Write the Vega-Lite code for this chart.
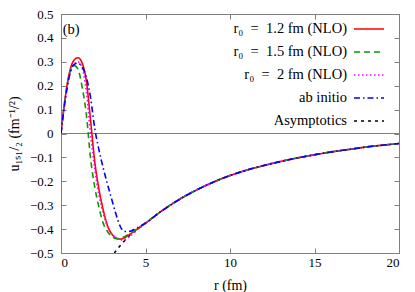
{
  "$schema": "https://vega.github.io/schema/vega-lite/v6.json",
  "width": 338,
  "height": 239,
  "autosize": {"type": "none"},
  "padding": {"left": 61, "top": 14, "right": 16, "bottom": 39},
  "config": {
    "view": {"stroke": "#808080", "strokeWidth": 1},
    "font": "Liberation Serif",
    "axis": {
      "grid": false,
      "domainColor": "#808080",
      "tickColor": "#808080",
      "tickSize": -5,
      "labelFont": "Liberation Serif",
      "labelFontSize": 13,
      "labelColor": "#000000",
      "titleFont": "Liberation Serif",
      "titleFontSize": 14,
      "titleFontWeight": "normal",
      "titleColor": "#000000"
    }
  },
  "datasets": {
    "curves": [
      {"s": "Asymptotics", "r": 3.15, "u": -0.5},
      {"s": "Asymptotics", "r": 3.4, "u": -0.478},
      {"s": "Asymptotics", "r": 3.7, "u": -0.453},
      {"s": "Asymptotics", "r": 4.0, "u": -0.431},
      {"s": "Asymptotics", "r": 4.5, "u": -0.402},
      {"s": "Asymptotics", "r": 5, "u": -0.375},
      {"s": "Asymptotics", "r": 6, "u": -0.322},
      {"s": "Asymptotics", "r": 7, "u": -0.276},
      {"s": "Asymptotics", "r": 8, "u": -0.237},
      {"s": "Asymptotics", "r": 9, "u": -0.204},
      {"s": "Asymptotics", "r": 10, "u": -0.176},
      {"s": "Asymptotics", "r": 11, "u": -0.153},
      {"s": "Asymptotics", "r": 12, "u": -0.134},
      {"s": "Asymptotics", "r": 13, "u": -0.117},
      {"s": "Asymptotics", "r": 14, "u": -0.102},
      {"s": "Asymptotics", "r": 15, "u": -0.089},
      {"s": "Asymptotics", "r": 16, "u": -0.077},
      {"s": "Asymptotics", "r": 17, "u": -0.067},
      {"s": "Asymptotics", "r": 18, "u": -0.057},
      {"s": "Asymptotics", "r": 19, "u": -0.049},
      {"s": "Asymptotics", "r": 20, "u": -0.042},

      {"s": "r₀ = 1.2 fm (NLO)", "r": 0, "u": 0},
      {"s": "r₀ = 1.2 fm (NLO)", "r": 0.1, "u": 0.065},
      {"s": "r₀ = 1.2 fm (NLO)", "r": 0.25, "u": 0.15},
      {"s": "r₀ = 1.2 fm (NLO)", "r": 0.5, "u": 0.255},
      {"s": "r₀ = 1.2 fm (NLO)", "r": 0.75, "u": 0.305},
      {"s": "r₀ = 1.2 fm (NLO)", "r": 1.0, "u": 0.317},
      {"s": "r₀ = 1.2 fm (NLO)", "r": 1.25, "u": 0.295},
      {"s": "r₀ = 1.2 fm (NLO)", "r": 1.5, "u": 0.22},
      {"s": "r₀ = 1.2 fm (NLO)", "r": 1.75, "u": 0.055},
      {"s": "r₀ = 1.2 fm (NLO)", "r": 2.0, "u": -0.12},
      {"s": "r₀ = 1.2 fm (NLO)", "r": 2.25, "u": -0.235},
      {"s": "r₀ = 1.2 fm (NLO)", "r": 2.5, "u": -0.32},
      {"s": "r₀ = 1.2 fm (NLO)", "r": 2.75, "u": -0.385},
      {"s": "r₀ = 1.2 fm (NLO)", "r": 3.0, "u": -0.42},
      {"s": "r₀ = 1.2 fm (NLO)", "r": 3.25, "u": -0.437},
      {"s": "r₀ = 1.2 fm (NLO)", "r": 3.5, "u": -0.442},
      {"s": "r₀ = 1.2 fm (NLO)", "r": 3.75, "u": -0.437},
      {"s": "r₀ = 1.2 fm (NLO)", "r": 4.0, "u": -0.425},
      {"s": "r₀ = 1.2 fm (NLO)", "r": 4.5, "u": -0.4},
      {"s": "r₀ = 1.2 fm (NLO)", "r": 5, "u": -0.375},
      {"s": "r₀ = 1.2 fm (NLO)", "r": 6, "u": -0.322},
      {"s": "r₀ = 1.2 fm (NLO)", "r": 7, "u": -0.276},
      {"s": "r₀ = 1.2 fm (NLO)", "r": 8, "u": -0.237},
      {"s": "r₀ = 1.2 fm (NLO)", "r": 9, "u": -0.204},
      {"s": "r₀ = 1.2 fm (NLO)", "r": 10, "u": -0.176},
      {"s": "r₀ = 1.2 fm (NLO)", "r": 11, "u": -0.153},
      {"s": "r₀ = 1.2 fm (NLO)", "r": 12, "u": -0.134},
      {"s": "r₀ = 1.2 fm (NLO)", "r": 13, "u": -0.117},
      {"s": "r₀ = 1.2 fm (NLO)", "r": 14, "u": -0.102},
      {"s": "r₀ = 1.2 fm (NLO)", "r": 15, "u": -0.089},
      {"s": "r₀ = 1.2 fm (NLO)", "r": 16, "u": -0.077},
      {"s": "r₀ = 1.2 fm (NLO)", "r": 17, "u": -0.067},
      {"s": "r₀ = 1.2 fm (NLO)", "r": 18, "u": -0.057},
      {"s": "r₀ = 1.2 fm (NLO)", "r": 19, "u": -0.049},
      {"s": "r₀ = 1.2 fm (NLO)", "r": 20, "u": -0.042},

      {"s": "r₀ = 1.5 fm (NLO)", "r": 0, "u": 0},
      {"s": "r₀ = 1.5 fm (NLO)", "r": 0.1, "u": 0.065},
      {"s": "r₀ = 1.5 fm (NLO)", "r": 0.25, "u": 0.15},
      {"s": "r₀ = 1.5 fm (NLO)", "r": 0.5, "u": 0.25},
      {"s": "r₀ = 1.5 fm (NLO)", "r": 0.75, "u": 0.285},
      {"s": "r₀ = 1.5 fm (NLO)", "r": 1.0, "u": 0.27},
      {"s": "r₀ = 1.5 fm (NLO)", "r": 1.25, "u": 0.195},
      {"s": "r₀ = 1.5 fm (NLO)", "r": 1.5, "u": 0.08},
      {"s": "r₀ = 1.5 fm (NLO)", "r": 1.75, "u": -0.105},
      {"s": "r₀ = 1.5 fm (NLO)", "r": 2.0, "u": -0.225},
      {"s": "r₀ = 1.5 fm (NLO)", "r": 2.25, "u": -0.31},
      {"s": "r₀ = 1.5 fm (NLO)", "r": 2.5, "u": -0.376},
      {"s": "r₀ = 1.5 fm (NLO)", "r": 2.75, "u": -0.41},
      {"s": "r₀ = 1.5 fm (NLO)", "r": 3.0, "u": -0.43},
      {"s": "r₀ = 1.5 fm (NLO)", "r": 3.25, "u": -0.44},
      {"s": "r₀ = 1.5 fm (NLO)", "r": 3.5, "u": -0.438},
      {"s": "r₀ = 1.5 fm (NLO)", "r": 3.75, "u": -0.432},
      {"s": "r₀ = 1.5 fm (NLO)", "r": 4.0, "u": -0.422},
      {"s": "r₀ = 1.5 fm (NLO)", "r": 4.5, "u": -0.4},
      {"s": "r₀ = 1.5 fm (NLO)", "r": 5, "u": -0.375},
      {"s": "r₀ = 1.5 fm (NLO)", "r": 6, "u": -0.322},
      {"s": "r₀ = 1.5 fm (NLO)", "r": 7, "u": -0.276},
      {"s": "r₀ = 1.5 fm (NLO)", "r": 8, "u": -0.237},
      {"s": "r₀ = 1.5 fm (NLO)", "r": 9, "u": -0.204},
      {"s": "r₀ = 1.5 fm (NLO)", "r": 10, "u": -0.176},
      {"s": "r₀ = 1.5 fm (NLO)", "r": 11, "u": -0.153},
      {"s": "r₀ = 1.5 fm (NLO)", "r": 12, "u": -0.134},
      {"s": "r₀ = 1.5 fm (NLO)", "r": 13, "u": -0.117},
      {"s": "r₀ = 1.5 fm (NLO)", "r": 14, "u": -0.102},
      {"s": "r₀ = 1.5 fm (NLO)", "r": 15, "u": -0.089},
      {"s": "r₀ = 1.5 fm (NLO)", "r": 16, "u": -0.077},
      {"s": "r₀ = 1.5 fm (NLO)", "r": 17, "u": -0.067},
      {"s": "r₀ = 1.5 fm (NLO)", "r": 18, "u": -0.057},
      {"s": "r₀ = 1.5 fm (NLO)", "r": 19, "u": -0.049},
      {"s": "r₀ = 1.5 fm (NLO)", "r": 20, "u": -0.042},

      {"s": "r₀ = 2 fm (NLO)", "r": 0, "u": 0},
      {"s": "r₀ = 2 fm (NLO)", "r": 0.1, "u": 0.062},
      {"s": "r₀ = 2 fm (NLO)", "r": 0.25, "u": 0.145},
      {"s": "r₀ = 2 fm (NLO)", "r": 0.5, "u": 0.245},
      {"s": "r₀ = 2 fm (NLO)", "r": 0.75, "u": 0.29},
      {"s": "r₀ = 2 fm (NLO)", "r": 1.0, "u": 0.3},
      {"s": "r₀ = 2 fm (NLO)", "r": 1.25, "u": 0.275},
      {"s": "r₀ = 2 fm (NLO)", "r": 1.5, "u": 0.175},
      {"s": "r₀ = 2 fm (NLO)", "r": 1.75, "u": -0.005},
      {"s": "r₀ = 2 fm (NLO)", "r": 2.0, "u": -0.15},
      {"s": "r₀ = 2 fm (NLO)", "r": 2.25, "u": -0.26},
      {"s": "r₀ = 2 fm (NLO)", "r": 2.5, "u": -0.335},
      {"s": "r₀ = 2 fm (NLO)", "r": 2.75, "u": -0.39},
      {"s": "r₀ = 2 fm (NLO)", "r": 3.0, "u": -0.42},
      {"s": "r₀ = 2 fm (NLO)", "r": 3.25, "u": -0.437},
      {"s": "r₀ = 2 fm (NLO)", "r": 3.5, "u": -0.445},
      {"s": "r₀ = 2 fm (NLO)", "r": 3.75, "u": -0.445},
      {"s": "r₀ = 2 fm (NLO)", "r": 4.0, "u": -0.434},
      {"s": "r₀ = 2 fm (NLO)", "r": 4.5, "u": -0.404},
      {"s": "r₀ = 2 fm (NLO)", "r": 5, "u": -0.376},
      {"s": "r₀ = 2 fm (NLO)", "r": 6, "u": -0.322},
      {"s": "r₀ = 2 fm (NLO)", "r": 7, "u": -0.276},
      {"s": "r₀ = 2 fm (NLO)", "r": 8, "u": -0.237},
      {"s": "r₀ = 2 fm (NLO)", "r": 9, "u": -0.204},
      {"s": "r₀ = 2 fm (NLO)", "r": 10, "u": -0.176},
      {"s": "r₀ = 2 fm (NLO)", "r": 11, "u": -0.153},
      {"s": "r₀ = 2 fm (NLO)", "r": 12, "u": -0.134},
      {"s": "r₀ = 2 fm (NLO)", "r": 13, "u": -0.117},
      {"s": "r₀ = 2 fm (NLO)", "r": 14, "u": -0.102},
      {"s": "r₀ = 2 fm (NLO)", "r": 15, "u": -0.089},
      {"s": "r₀ = 2 fm (NLO)", "r": 16, "u": -0.077},
      {"s": "r₀ = 2 fm (NLO)", "r": 17, "u": -0.067},
      {"s": "r₀ = 2 fm (NLO)", "r": 18, "u": -0.057},
      {"s": "r₀ = 2 fm (NLO)", "r": 19, "u": -0.049},
      {"s": "r₀ = 2 fm (NLO)", "r": 20, "u": -0.042},

      {"s": "ab initio", "r": 0, "u": 0},
      {"s": "ab initio", "r": 0.1, "u": 0.06},
      {"s": "ab initio", "r": 0.25, "u": 0.14},
      {"s": "ab initio", "r": 0.5, "u": 0.24},
      {"s": "ab initio", "r": 0.75, "u": 0.287},
      {"s": "ab initio", "r": 1.0, "u": 0.295},
      {"s": "ab initio", "r": 1.25, "u": 0.278},
      {"s": "ab initio", "r": 1.5, "u": 0.235},
      {"s": "ab initio", "r": 1.75, "u": 0.15},
      {"s": "ab initio", "r": 2.0, "u": 0.02},
      {"s": "ab initio", "r": 2.25, "u": -0.07},
      {"s": "ab initio", "r": 2.5, "u": -0.145},
      {"s": "ab initio", "r": 2.75, "u": -0.212},
      {"s": "ab initio", "r": 3.0, "u": -0.275},
      {"s": "ab initio", "r": 3.25, "u": -0.337},
      {"s": "ab initio", "r": 3.5, "u": -0.388},
      {"s": "ab initio", "r": 3.75, "u": -0.41},
      {"s": "ab initio", "r": 4.0, "u": -0.41},
      {"s": "ab initio", "r": 4.5, "u": -0.395},
      {"s": "ab initio", "r": 5, "u": -0.375},
      {"s": "ab initio", "r": 6, "u": -0.322},
      {"s": "ab initio", "r": 7, "u": -0.276},
      {"s": "ab initio", "r": 8, "u": -0.237},
      {"s": "ab initio", "r": 9, "u": -0.204},
      {"s": "ab initio", "r": 10, "u": -0.176},
      {"s": "ab initio", "r": 11, "u": -0.153},
      {"s": "ab initio", "r": 12, "u": -0.134},
      {"s": "ab initio", "r": 13, "u": -0.117},
      {"s": "ab initio", "r": 14, "u": -0.102},
      {"s": "ab initio", "r": 15, "u": -0.089},
      {"s": "ab initio", "r": 16, "u": -0.077},
      {"s": "ab initio", "r": 17, "u": -0.067},
      {"s": "ab initio", "r": 18, "u": -0.057},
      {"s": "ab initio", "r": 19, "u": -0.049},
      {"s": "ab initio", "r": 20, "u": -0.042}
    ]
  },
  "layer": [
    {
      "data": {"values": [{}]},
      "mark": {"type": "rule", "color": "#808080", "strokeWidth": 1},
      "encoding": {"y": {"datum": 0, "type": "quantitative", "scale": {"domain": [-0.5, 0.5], "nice": false}, "axis": null}}
    },
    {
      "data": {"name": "curves"},
      "mark": {"type": "line", "strokeWidth": 1.6, "interpolate": "monotone", "clip": true},
      "encoding": {
        "x": {
          "field": "r", "type": "quantitative",
          "scale": {"domain": [0, 20], "nice": false},
          "axis": {"orient": "bottom", "values": [0, 5, 10, 15, 20], "title": "r (fm)", "labelPadding": 8, "titlePadding": 9}
        },
        "y": {
          "field": "u", "type": "quantitative",
          "scale": {"domain": [-0.5, 0.5], "nice": false},
          "axis": {
            "orient": "left",
            "values": [-0.5, -0.4, -0.3, -0.2, -0.1, 0, 0.1, 0.2, 0.3, 0.4, 0.5],
            "format": ".1~f",
            "title": "u₁ₛ₁/₂ (fm⁻¹/²)",
            "labelPadding": 13,
            "titlePadding": 8
          }
        },
        "color": {
          "field": "s", "type": "nominal",
          "scale": {
            "domain": ["r₀ = 1.2 fm (NLO)", "r₀ = 1.5 fm (NLO)", "r₀ = 2 fm (NLO)", "ab initio", "Asymptotics"],
            "range": ["#ff0000", "#00a000", "#ff00ff", "#0000ff", "#000000"]
          },
          "legend": {
            "title": null,
            "orient": "none",
            "legendX": 292,
            "legendY": -1,
            "padding": 0,
            "symbolType": "stroke",
            "symbolSize": 900,
            "symbolStrokeWidth": 1.6,
            "labelAlign": "right",
            "labelOffset": -38,
            "labelFont": "Liberation Serif",
            "labelFontSize": 14.5,
            "labelColor": "#000000",
            "labelLimit": 300,
            "rowPadding": -7,
            "labelExpr": "replace(datum.label, ' = ', '\u2002=\u2002')"
          }
        },
        "strokeDash": {
          "field": "s", "type": "nominal",
          "scale": {
            "domain": ["r₀ = 1.2 fm (NLO)", "r₀ = 1.5 fm (NLO)", "r₀ = 2 fm (NLO)", "ab initio", "Asymptotics"],
            "range": [[1, 0], [6, 4], [1.5, 2.5], [6, 3, 1.5, 3], [3, 4]]
          },
          "legend": null
        },
        "strokeWidth": {
          "field": "s", "type": "nominal",
          "scale": {
            "domain": ["r₀ = 1.2 fm (NLO)", "r₀ = 1.5 fm (NLO)", "r₀ = 2 fm (NLO)", "ab initio", "Asymptotics"],
            "range": [1.6, 1.6, 1.6, 1.6, 1.1]
          },
          "legend": null
        }
      }
    },
    {
      "data": {"values": [{}]},
      "mark": {"type": "text", "align": "left", "baseline": "middle", "fontSize": 14.5, "font": "Liberation Serif", "color": "#000000"},
      "encoding": {
        "x": {"datum": 0.1, "type": "quantitative", "axis": {"orient": "top", "values": [0, 5, 10, 15, 20], "labels": false, "title": null}},
        "y": {"datum": 0.435, "type": "quantitative", "axis": {"orient": "right", "values": [-0.5, -0.4, -0.3, -0.2, -0.1, 0, 0.1, 0.2, 0.3, 0.4, 0.5], "labels": false, "title": null}},
        "text": {"value": "(b)"}
      }
    }
  ],
  "resolve": {"axis": {"x": "independent", "y": "independent"}}
}
